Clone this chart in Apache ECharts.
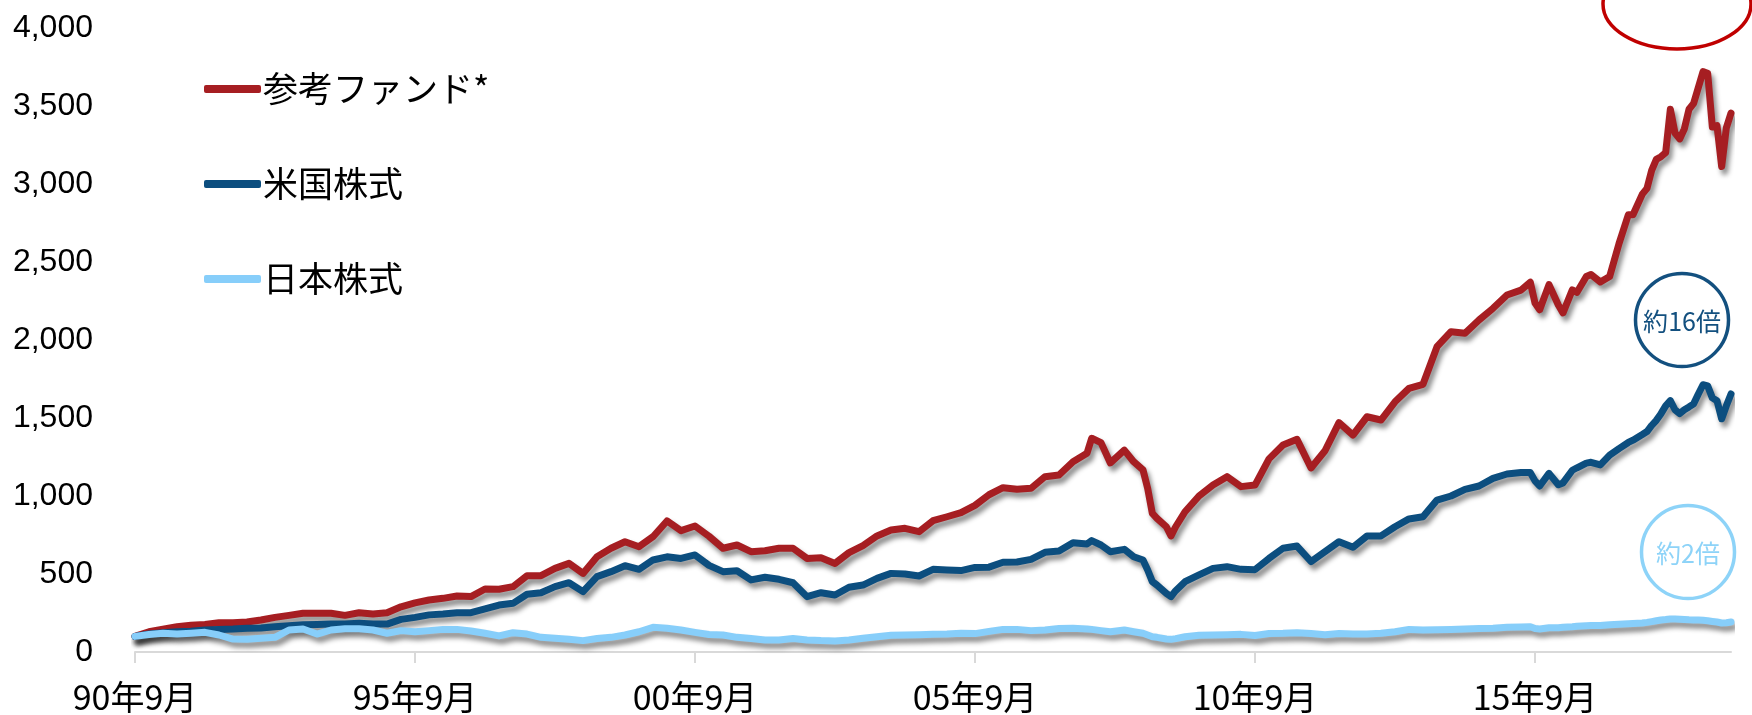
<!DOCTYPE html>
<html>
<head>
<meta charset="utf-8">
<script src="https://cdn.jsdelivr.net/npm/echarts@6/dist/echarts.min.js"></script>
<style>
  html, body { margin: 0; padding: 0; background: #fff; }
  #chart { width: 1752px; height: 715px; }
</style>
</head>
<body>
<div id="chart"></div>
<script>
// 1990年9月からの経過月数
var months = [
  0, 3, 6, 9, 12, 15, 18, 21, 24, 27, 30, 33, 36, 39, 42, 45, 48, 51, 54, 57,
  60, 63, 66, 69, 72, 75, 78, 81, 84, 87, 90, 93, 96, 99, 102, 105, 108, 111, 114, 117,
  120, 123, 126, 129, 132, 135, 138, 141, 144, 147, 150, 153, 156, 159, 162, 165, 168, 171, 174, 177,
  180, 183, 186, 189, 192, 195, 198, 201, 204, 205, 207, 209, 212, 214, 216, 217, 218, 219, 221, 222,
  223, 225, 228, 231, 234, 237, 240, 243, 246, 249, 252, 255, 258, 261, 264, 267, 270, 273, 276, 279,
  282, 285, 288, 291, 294, 297, 299, 300, 301, 303, 305, 306, 308, 309, 311, 312, 314, 316, 318, 320,
  321, 323, 324, 325, 326, 327, 328, 329, 330, 331, 332, 333, 334, 335, 336, 337, 338, 339, 340, 341, 342
];

var fundValues = [
  100, 130, 147, 162, 171, 177, 188, 188, 192, 205, 222, 235, 248, 248, 248, 235, 252, 244, 252, 290,
  315, 333, 344, 359, 355, 404, 402, 419, 489, 489, 536, 568, 504, 611, 665, 707, 675, 739, 840, 778,
  808, 742, 665, 686, 643, 649, 665, 665, 600, 604, 568, 637, 682, 744, 782, 793, 771, 842, 867, 893,
  940, 1008, 1053, 1043, 1049, 1124, 1135, 1220, 1274, 1370, 1342, 1212, 1294, 1220, 1167, 1049, 889, 857, 803, 744,
  803, 899, 1000, 1070, 1124, 1060, 1070, 1238, 1327, 1363, 1180, 1290, 1470, 1391, 1508, 1487, 1604, 1690, 1716, 1957,
  2053, 2043, 2128, 2203, 2288, 2320, 2370, 2237, 2194, 2355, 2224, 2174, 2321, 2306, 2407, 2420, 2372, 2407, 2618, 2803,
  2803, 2935, 2972, 3087, 3158, 3175, 3201, 3479, 3327, 3289, 3353, 3479, 3517, 3619, 3720, 3710, 3365, 3375, 3112, 3360, 3454
];

var usValues = [
  100, 115, 124, 130, 133, 141, 145, 147, 152, 154, 162, 169, 175, 177, 179, 179, 184, 179, 179, 209,
  222, 238, 244, 252, 252, 276, 301, 312, 370, 380, 419, 444, 387, 483, 515, 553, 530, 590, 610, 600,
  622, 555, 515, 521, 462, 479, 466, 444, 355, 380, 365, 415, 429, 472, 504, 500, 487, 530, 526, 522,
  542, 544, 575, 577, 594, 639, 647, 701, 692, 714, 686, 643, 658, 611, 590, 526, 451, 429, 376, 355,
  393, 451, 494, 536, 547, 530, 528, 600, 665, 679, 580, 643, 707, 671, 744, 744, 803, 853, 867, 974,
  1000, 1043, 1064, 1113, 1141, 1150, 1150, 1097, 1064, 1145, 1072, 1084, 1165, 1181, 1211, 1216, 1199, 1262, 1304, 1343,
  1358, 1394, 1413, 1452, 1485, 1528, 1578, 1611, 1553, 1528, 1553, 1571, 1591, 1654, 1713, 1706, 1629, 1611, 1495, 1578, 1654
];

var jpValues = [
  100, 112, 120, 115, 120, 126, 109, 83, 81, 88, 94, 141, 147, 115, 141, 149, 149, 141, 120, 137,
  130, 137, 145, 145, 135, 120, 103, 124, 115, 94, 88, 81, 73, 86, 94, 109, 130, 158, 152, 141,
  126, 112, 109, 94, 86, 77, 77, 86, 77, 73, 71, 77, 88, 98, 107, 109, 111, 113, 115, 120,
  118, 132, 145, 145, 137, 141, 150, 152, 148, 145, 137, 130, 141, 130, 120, 109, 98, 94, 83, 81,
  86, 98, 107, 109, 111, 113, 106, 118, 120, 124, 118, 111, 118, 115, 115, 120, 130, 145, 141, 143,
  145, 148, 150, 152, 158, 160, 162, 150, 148, 155, 155, 158, 162, 165, 168, 170, 170, 174, 178, 181,
  183, 186, 190, 195, 200, 205, 208, 212, 212, 210, 208, 206, 205, 205, 203, 200, 196, 192, 186, 188, 192
];

var seriesNames = ['参考ファンド*', '米国株式', '日本株式'];
var seriesColors = ['#A61E22', '#0C4E7F', '#87CEFA'];
var xTickValues = [0, 60, 120, 180, 240, 300];
var xTickLabels = ['90年9月', '95年9月', '00年9月', '05年9月', '10年9月', '15年9月'];

function pairs(vals) {
  return months.map(function (m, i) { return [m, vals[i]]; });
}

var chart = echarts.init(document.getElementById('chart'));

var allValues = [fundValues, usValues, jpValues];
var series = allValues.map(function (vals, i) {
  return {
    name: seriesNames[i],
    type: 'line',
    data: pairs(vals),
    showSymbol: false,
    symbol: 'none',
    animation: false,
    lineStyle: {
      color: seriesColors[i],
      width: 7,
      cap: 'round',
      join: 'round',
      shadowColor: 'rgba(0,0,0,0.45)',
      shadowBlur: 5,
      shadowOffsetX: 3,
      shadowOffsetY: 5
    },
    itemStyle: { color: seriesColors[i] }
  };
});

chart.setOption({
  backgroundColor: '#fff',
  animation: false,
  grid: { left: 135, right: 21, top: 28, bottom: 63, containLabel: false },
  legend: {
    orient: 'vertical',
    left: 199,
    top: 64,
    itemGap: 55,
    itemWidth: 57,
    itemHeight: 8,
    icon: 'roundRect',
    data: seriesNames,
    textStyle: {
      color: '#000',
      fontSize: 35,
      lineHeight: 40,
      padding: [0, 0, 0, -3],
      fontFamily: "'Noto Sans CJK JP', sans-serif"
    }
  },
  xAxis: {
    type: 'value',
    min: 0,
    max: 342,
    interval: 60,
    splitLine: { show: false },
    axisLine: { show: true, lineStyle: { color: '#D9D9D9', width: 2 } },
    axisTick: {
      show: true,
      length: 11,
      lineStyle: { color: '#D9D9D9', width: 2 },
      customValues: xTickValues
    },
    axisLabel: {
      margin: 28,
      color: '#000',
      fontSize: 34,
      fontFamily: "'Liberation Sans Narrow', 'Noto Sans CJK JP', sans-serif",
      customValues: xTickValues,
      formatter: function (v) {
        var idx = xTickValues.indexOf(v);
        return idx >= 0 ? xTickLabels[idx] : '';
      }
    }
  },
  yAxis: {
    type: 'value',
    min: 0,
    max: 4000,
    interval: 500,
    splitLine: { show: false },
    axisLine: { show: false },
    axisTick: { show: false },
    axisLabel: {
      margin: 42,
      color: '#000',
      fontSize: 32,
      fontFamily: "'Liberation Sans', Arial, sans-serif",
      formatter: function (v) { return v.toLocaleString('en-US'); }
    }
  },
  graphic: [
    {
      type: 'ellipse',
      shape: { cx: 1677, cy: 4, rx: 74, ry: 45 },
      style: { fill: 'none', stroke: '#C00000', lineWidth: 3.5 },
      z: 100
    },
    {
      type: 'circle',
      shape: { cx: 1682, cy: 320, r: 46.5 },
      style: { fill: '#fff', stroke: '#13507F', lineWidth: 3.5 },
      z: 100
    },
    {
      type: 'text',
      x: 1682,
      y: 321,
      style: {
        text: '約16倍',
        fill: '#13507F',
        font: "25px 'Noto Sans CJK JP', sans-serif",
        align: 'center',
        verticalAlign: 'middle',
        textAlign: 'center',
        textVerticalAlign: 'middle'
      },
      z: 101
    },
    {
      type: 'circle',
      shape: { cx: 1688, cy: 552, r: 46.5 },
      style: { fill: '#fff', stroke: '#8DD3F8', lineWidth: 3.5 },
      z: 100
    },
    {
      type: 'text',
      x: 1688,
      y: 553,
      style: {
        text: '約2倍',
        fill: '#8DD3F8',
        font: "25px 'Noto Sans CJK JP', sans-serif",
        align: 'center',
        verticalAlign: 'middle',
        textAlign: 'center',
        textVerticalAlign: 'middle'
      },
      z: 101
    }
  ],
  series: series
});
</script>
</body>
</html>
